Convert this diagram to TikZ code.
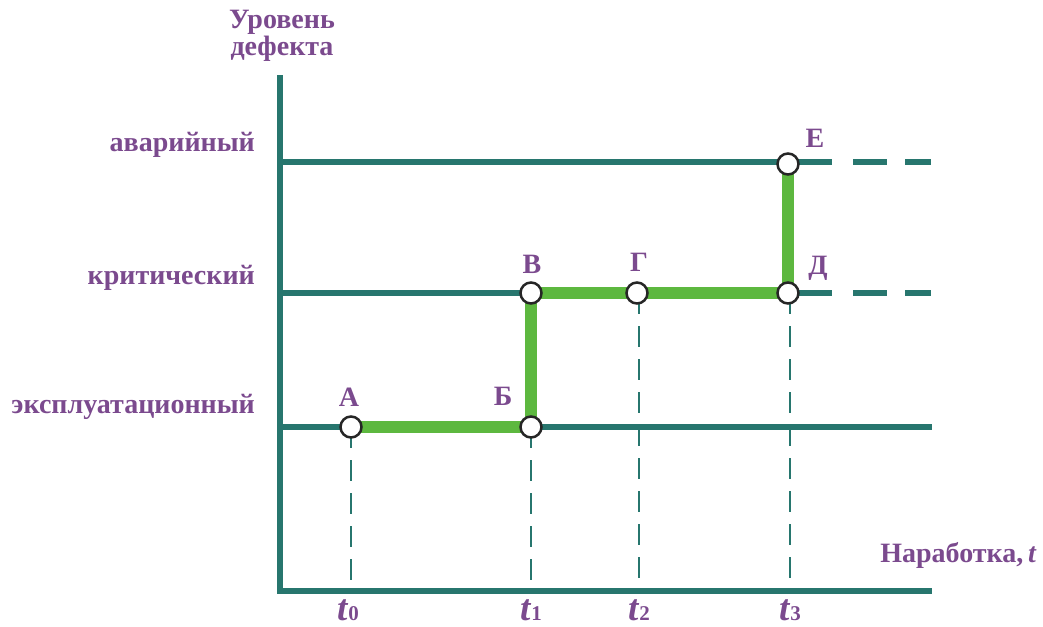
\documentclass[tikz,border=0pt]{standalone}
\usepackage{fontspec}
\setmainfont{Liberation Serif}
\definecolor{lblpurple}{HTML}{7B4A8E}
\definecolor{teal}{HTML}{27766E}
\definecolor{grn}{HTML}{5DB83F}
\begin{document}
\begin{tikzpicture}[x=1pt,y=-1pt,
  axisline/.style={draw=teal,line width=6.5pt},
  levelline/.style={draw=teal,line width=6.5pt},
  dashlevel/.style={draw=teal,line width=6.5pt,dash pattern=on 34pt off 18pt},
  guide/.style={draw=teal,line width=2.2pt,dash pattern=on 21pt off 12pt},
  path/.style={draw=grn,line width=12pt},
  pt/.style={circle,draw=black!85,line width=2.5pt,fill=white,minimum size=21pt,inner sep=0pt},
  lbl/.style={text=lblpurple,font=\fontsize{28}{27}\selectfont\bfseries,inner sep=0pt},
  tlbl/.style={text=lblpurple,font=\fontsize{37}{37}\selectfont\bfseries\itshape,inner sep=0pt,anchor=base}
]
\useasboundingbox (0,0) rectangle (1043,626);
% coordinates
\coordinate (top) at (280,75);
\coordinate (origin) at (280,591);
\coordinate (xend) at (932,591);
\coordinate (l1s) at (280,162);
\coordinate (l1e) at (832,162);
\coordinate (l1d) at (853,162);
\coordinate (l1f) at (931,162);
\coordinate (l2s) at (280,293);
\coordinate (l2e) at (832,293);
\coordinate (l2d) at (853,293);
\coordinate (l2f) at (931,293);
\coordinate (l3s) at (280,427);
\coordinate (l3e) at (932,427);
\coordinate (b0) at (351,591);
\coordinate (b1) at (531,591);
\coordinate (b2) at (639,591);
\coordinate (b3) at (790,591);
% axes
\draw[axisline,line join=miter] (top) -- (origin) -- (xend);
% levels
\draw[levelline] (l1s) -- (l1e);
\draw[dashlevel] (l1d) -- (l1f);
\draw[levelline] (l2s) -- (l2e);
\draw[dashlevel] (l2d) -- (l2f);
\draw[levelline] (l3s) -- (l3e);
% point positions
\path (351,427) coordinate (cA) (531,427) coordinate (cB) (531,293) coordinate (cV)
      (637,293) coordinate (cG) (788,293) coordinate (cD) (788,164) coordinate (cE);
% guides
\draw[guide] (cA) -- (b0);
\draw[guide] (cB) -- (b1);
\draw[guide] (639,293) -- (b2);
\draw[guide] (790,293) -- (b3);
% green path
\draw[path,line join=miter] (cA) -- (cB) -- (cV) -- (cG) -- (cD) -- (cE);
% circles
\node[pt] (A) at (cA) {};
\node[pt] (B) at (cB) {};
\node[pt] (V) at (cV) {};
\node[pt] (G) at (cG) {};
\node[pt] (D) at (cD) {};
\node[pt] (E) at (cE) {};
% point labels
\node[lbl] (lA) at (349,397) {А};
\node[lbl] (lB) at (503,396) {Б};
\node[lbl] (lV) at (532,264) {В};
\node[lbl] (lG) at (639,262) {Г};
\node[lbl] (lD) at (818,268) {Д};
\node[lbl] (lE) at (815,138) {Е};
% level labels
\node[lbl,anchor=east] (n1) at (255,145) {аварийный};
\node[lbl,anchor=east] (n2) at (255,278) {критический};
\node[lbl,anchor=east] (n3) at (255,407) {эксплуатационный};
% axis titles
\node[lbl,align=center] (ytitle) at (282,36) {Уровень\\дефекта};
\node[lbl,anchor=east] (xtitle) at (1036,555) {Наработка,\,{\itshape t}};
% t labels
\node[tlbl] (t0) at (348,620) {t\textup{\fontsize{21}{22}\selectfont 0}};
\node[tlbl] (t1) at (531,620) {t\textup{\fontsize{21}{22}\selectfont 1}};
\node[tlbl] (t2) at (639,620) {t\textup{\fontsize{21}{22}\selectfont 2}};
\node[tlbl] (t3) at (790,620) {t\textup{\fontsize{21}{22}\selectfont 3}};
\end{tikzpicture}
\end{document}
